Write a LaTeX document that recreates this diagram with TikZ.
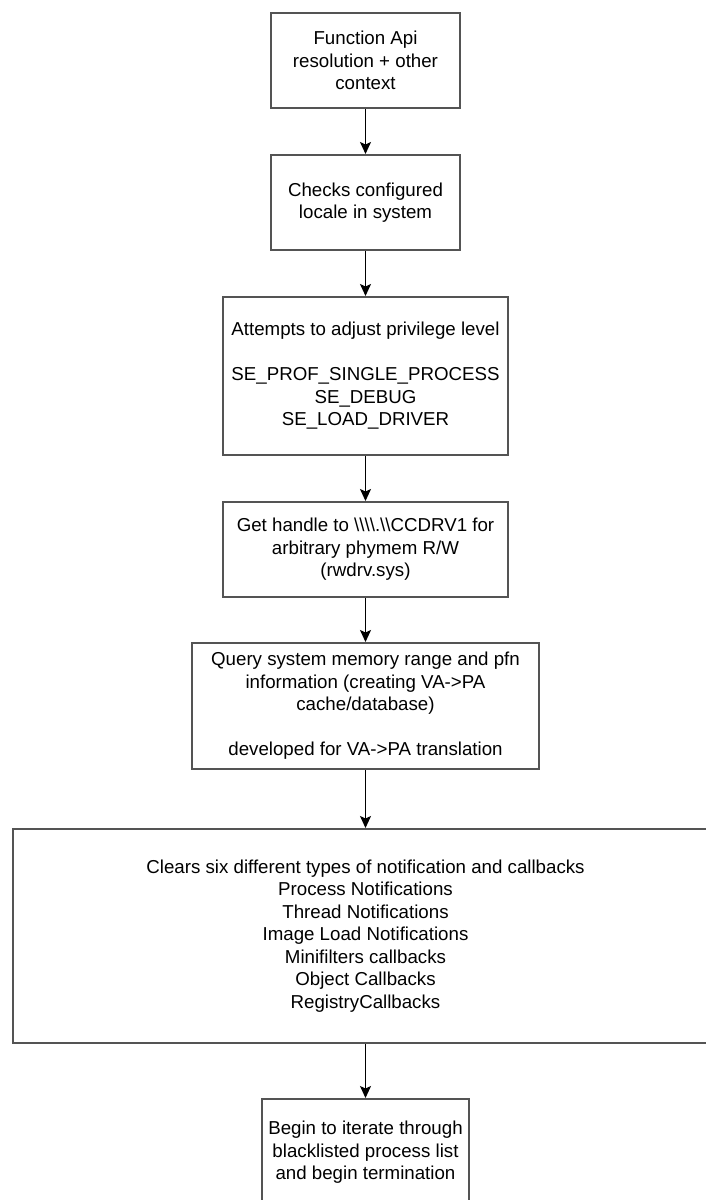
\documentclass[tikz,border=0pt]{standalone}
\usepackage{fontspec}
\setmainfont{Liberation Sans}
\usetikzlibrary{arrows.meta}
\definecolor{boxgray}{RGB}{84,84,84}
\tikzset{
  stepbox/.style={draw=boxgray, line width=2pt, fill=white, inner sep=0pt,
    align=center, font=\fontsize{18.7}{22.5}\selectfont, text=black},
  arr/.style={line width=1.6pt, draw=black,
    -{Stealth[length=12pt, width=11pt, inset=2.5pt]}}
}
\begin{document}
\begin{tikzpicture}[x=1pt, y=-1pt]
\useasboundingbox[fill=white] (0,0) rectangle (705,1200);
\node[stepbox, minimum width=189pt, minimum height=95pt] (b1) at (365.5,60.5)
  {Function Api\\resolution + other\\context};
\node[stepbox, minimum width=189pt, minimum height=95pt] (b2) at (365.5,202.5)
  {Checks configured\\locale in system};
\node[stepbox, minimum width=285pt, minimum height=158pt] (b3) at (365.5,376)
  {Attempts to adjust privilege level\\[22.5pt]SE\_PROF\_SINGLE\_PROCESS\\SE\_DEBUG\\SE\_LOAD\_DRIVER};
\node[stepbox, minimum width=285pt, minimum height=95pt] (b4) at (365.5,549.5)
  {Get handle to \textbackslash\textbackslash\textbackslash\textbackslash.\textbackslash\textbackslash CCDRV1 for\\arbitrary phymem R/W\\(rwdrv.sys)};
\node[stepbox, minimum width=347pt, minimum height=126pt] (b5) at (365.5,706)
  {Query system memory range and pfn\\information (creating VA->PA\\cache/database)\\[22.5pt]developed for VA->PA translation};
\node[stepbox, minimum width=705pt, minimum height=214pt] (b6) at (365.5,936)
  {Clears six different types of notification and callbacks\\Process Notifications\\Thread Notifications\\Image Load Notifications\\Minifilters callbacks\\Object Callbacks\\RegistryCallbacks};
\node[stepbox, minimum width=207pt, minimum height=107pt] (b7) at (365.5,1152.5)
  {Begin to iterate through\\blacklisted process list\\and begin termination};
\draw[arr] (b1.south) -- (b2.north);
\draw[arr] (b2.south) -- (b3.north);
\draw[arr] (b3.south) -- (b4.north);
\draw[arr] (b4.south) -- (b5.north);
\draw[arr] (b5.south) -- (b6.north);
\draw[arr] (b6.south) -- (b7.north);
\end{tikzpicture}
\end{document}
